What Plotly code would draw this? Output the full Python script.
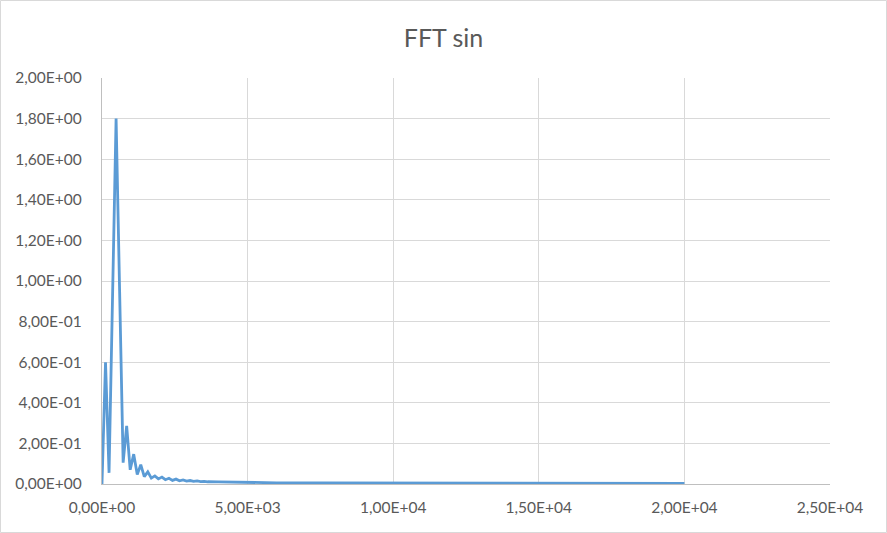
import plotly.graph_objects as go

# Frequency bins (Hz) and FFT magnitude
freq_hz = [0, 121, 242, 363, 484, 605, 726, 847, 968, 1089, 1210, 1331, 1452, 1573,
           1694, 1815, 1936, 2057, 2178, 2299, 2420, 2541, 2662, 2783, 2904, 3025,
           3146, 3267, 3388, 3509, 3630, 4000, 5000, 6000, 7500, 10000, 12500,
           15000, 17500, 20000]
amplitude = [0.0, 0.60, 0.055, 0.93, 1.80, 0.95, 0.105, 0.286, 0.07, 0.147, 0.047,
             0.095, 0.036, 0.06, 0.029, 0.04, 0.025, 0.034, 0.021, 0.028, 0.018,
             0.024, 0.016, 0.020, 0.014, 0.017, 0.013, 0.015, 0.012, 0.013, 0.011,
             0.010, 0.007, 0.006, 0.005, 0.004, 0.003, 0.003, 0.003, 0.003]

x_tickvals = [0, 5000, 10000, 15000, 20000, 25000]
x_ticktext = ["0,00E+00", "5,00E+03", "1,00E+04", "1,50E+04", "2,00E+04", "2,50E+04"]
y_tickvals = [0, 0.2, 0.4, 0.6, 0.8, 1.0, 1.2, 1.4, 1.6, 1.8, 2.0]
y_ticktext = ["0,00E+00", "2,00E-01", "4,00E-01", "6,00E-01", "8,00E-01", "1,00E+00",
              "1,20E+00", "1,40E+00", "1,60E+00", "1,80E+00", "2,00E+00"]

FONT = "Lato, Calibri, Carlito, sans-serif"
TXT = "#595959"

fig = go.Figure()
fig.add_trace(go.Scatter(
    x=freq_hz, y=amplitude, mode="lines",
    line=dict(color="#5b9bd5", width=2.8),
    showlegend=False, hoverinfo="x+y",
))

W, H = 887, 533
L, R, T, B = 102, 57, 78, 49
pw, ph = W - L - R, H - T - B

fig.update_layout(
    width=W, height=H,
    margin=dict(l=L, r=R, t=T, b=B, pad=0),
    paper_bgcolor="white", plot_bgcolor="white",
    font=dict(family=FONT, color=TXT, size=15),
    title=dict(text="FFT sin", x=0.5, xanchor="center", y=1 - 38 / H, yanchor="middle",
               font=dict(family=FONT, size=25, color=TXT)),
    xaxis=dict(range=[0, 25000], tickvals=x_tickvals, ticktext=x_ticktext,
               showgrid=True, gridcolor="#d9d9d9", gridwidth=1,
               showline=True, linecolor="#bfbfbf", linewidth=1.3,
               zeroline=False, ticks="", ticklabelstandoff=9,
               tickfont=dict(family=FONT, size=15.5, color=TXT)),
    yaxis=dict(range=[0, 2.0], tickvals=y_tickvals, ticktext=y_ticktext,
               showgrid=True, gridcolor="#d9d9d9", gridwidth=1,
               showline=True, linecolor="#bfbfbf", linewidth=1.3,
               zeroline=False, ticks="", ticklabelstandoff=16,
               tickfont=dict(family=FONT, size=15.5, color=TXT)),
    shapes=[dict(type="rect", xref="paper", yref="paper",
                 x0=(0.5 - L) / pw, x1=(W - 0.5 - L) / pw,
                 y0=(H - B - (H - 0.5)) / ph, y1=(H - B - 0.5) / ph,
                 line=dict(color="#d9d9d9", width=1), fillcolor="rgba(0,0,0,0)",
                 layer="below")],
)

fig.write_html("out.html", config={"displayModeBar": False},
               post_script="document.body.style.margin='0';document.body.style.overflow='hidden';")
